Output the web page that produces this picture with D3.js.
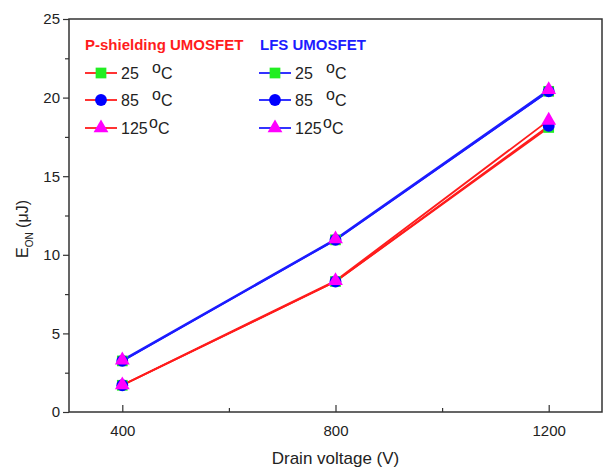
<!DOCTYPE html>
<html>
<head>
<meta charset="utf-8">
<script src="https://cdn.jsdelivr.net/npm/d3@7"></script>
<style>
  body { margin: 0; background: #fff; }
  text { font-family: "Liberation Sans", Arial, sans-serif; }
</style>
</head>
<body>
<svg id="chart"></svg>
<script>
// data
const voltages = [400, 800, 1200];
const temps = ["25", "85", "125"];
const pShield25 = [1.7, 8.3, 18.1];
const pShield85 = [1.7, 8.3, 18.2];
const pShield125 = [1.72, 8.35, 18.55];
const lfs25 = [3.25, 10.95, 20.4];
const lfs85 = [3.25, 10.95, 20.4];
const lfs125 = [3.3, 11.0, 20.5];
const xTicks = [400, 800, 1200];
const yTicks = [0, 5, 10, 15, 20, 25];

const size = { w: 605, h: 468 };
const margin = { t: 19, r: 3, b: 56, l: 69 };
const svg = d3.select("svg#chart").attr("width", size.w).attr("height", size.h);

const x = d3.scaleLinear().domain([300, 1300]).range([margin.l, size.w - margin.r]);
const y = d3.scaleLinear().domain([0, 25]).range([size.h - margin.b, margin.t]);

const red = "#ff1c1c", blue = "#1c1cff";
const markerColors = ["#22ee22", "#0000ff", "#ff00ff"];
const markerShapes = [d3.symbolSquare, d3.symbolCircle, d3.symbolTriangle];
const markerSizes = [115, 110, 95];

const groups = [
	{ name: "P-shielding UMOSFET", color: red, series: [pShield25, pShield85, pShield125], lx: 85, tx: 85 },
	{ name: "LFS UMOSFET", color: blue, series: [lfs25, lfs85, lfs125], lx: 259, tx: 260 },
];

const axisColor = "#333";

// frame
svg.append("rect")
	.attr("x", margin.l).attr("y", margin.t)
	.attr("width", x.range()[1] - margin.l)
	.attr("height", y.range()[0] - margin.t)
	.attr("fill", "none").attr("stroke", axisColor).attr("stroke-width", 1.5);

// x axis: ticks pointing inwards
svg.append("g")
	.attr("transform", `translate(0, ${y(0)})`)
	.call(d3.axisBottom(x).tickValues(xTicks).tickFormat(d3.format("d"))
		.tickSizeInner(-7).tickSizeOuter(0).tickPadding(13));
svg.append("g")
	.attr("transform", `translate(0, ${y(0)})`)
	.call(d3.axisBottom(x).tickValues([600, 1000]).tickSizeInner(-4).tickSizeOuter(0).tickFormat(""));

// y axis: ticks pointing outwards
svg.append("g")
	.attr("transform", `translate(${margin.l}, 0)`)
	.call(d3.axisLeft(y).tickValues(yTicks).tickSizeInner(6).tickSizeOuter(0).tickPadding(3));
svg.append("g")
	.attr("transform", `translate(${margin.l}, 0)`)
	.call(d3.axisLeft(y).tickValues([2.5, 7.5, 12.5, 17.5, 22.5]).tickSizeInner(4).tickSizeOuter(0).tickFormat(""));

svg.selectAll(".domain").remove();
svg.selectAll(".tick line").attr("stroke", axisColor).attr("stroke-width", 1.2);
svg.selectAll(".tick text").attr("fill", "#222").style("font-size", "15px")
	.style("font-family", "'Liberation Sans', Arial, sans-serif");

// axis titles
svg.append("text")
	.attr("x", (x.range()[0] + x.range()[1]) / 2).attr("y", 464)
	.attr("text-anchor", "middle").attr("fill", "#222")
	.style("font-size", "17px").text("Drain voltage (V)");

const yTitle = svg.append("text")
	.attr("transform", `translate(28, 229) rotate(-90)`)
	.attr("text-anchor", "middle").attr("fill", "#222")
	.style("font-size", "16px");
yTitle.append("tspan").text("E");
yTitle.append("tspan").attr("dy", 5).style("font-size", "10px").text("ON");
yTitle.append("tspan").attr("dy", -5).text(" (\u03bcJ)");

// lines then markers
const line = d3.line().x((d, i) => x(voltages[i])).y((d) => y(d));

groups.forEach((g) => {
	svg.append("g").selectAll("path")
		.data(g.series)
		.join("path")
		.attr("d", (s) => line(s))
		.attr("fill", "none")
		.attr("stroke", g.color)
		.attr("stroke-width", 1.8);
});

groups.forEach((g) => {
	g.series.forEach((s, k) => {
		svg.append("g").selectAll("path")
			.data(s)
			.join("path")
			.attr("transform", (d, i) => `translate(${x(voltages[i])}, ${y(d)})`)
			.attr("d", d3.symbol().type(markerShapes[k]).size(markerSizes[k]))
			.attr("fill", markerColors[k]);
	});
});

// legend
const rowY = [73, 100, 128];
groups.forEach((g) => {
	svg.append("text")
		.attr("x", g.tx).attr("y", 50)
		.attr("fill", g.color)
		.style("font-size", "15px").style("font-weight", "bold")
		.text(g.name);
	temps.forEach((t, k) => {
		const ly = rowY[k];
		svg.append("line")
			.attr("x1", g.lx).attr("x2", g.lx + 32)
			.attr("y1", ly).attr("y2", ly)
			.attr("stroke", g.color).attr("stroke-width", 1.8);
		svg.append("path")
			.attr("transform", `translate(${g.lx + 16}, ${ly})`)
			.attr("d", d3.symbol().type(markerShapes[k]).size(markerSizes[k]))
			.attr("fill", markerColors[k]);
		const label = svg.append("text")
			.attr("x", g.lx + 36).attr("y", ly + 6)
			.attr("fill", "#222").style("font-size", "16px");
		label.append("tspan").text(t);
		label.append("tspan").attr("x", g.lx + (t.length > 2 ? 64 : 67)).attr("dy", -6).text("o");
		label.append("tspan").attr("dy", 6).text("C");
	});
});
</script>
</body>
</html>
